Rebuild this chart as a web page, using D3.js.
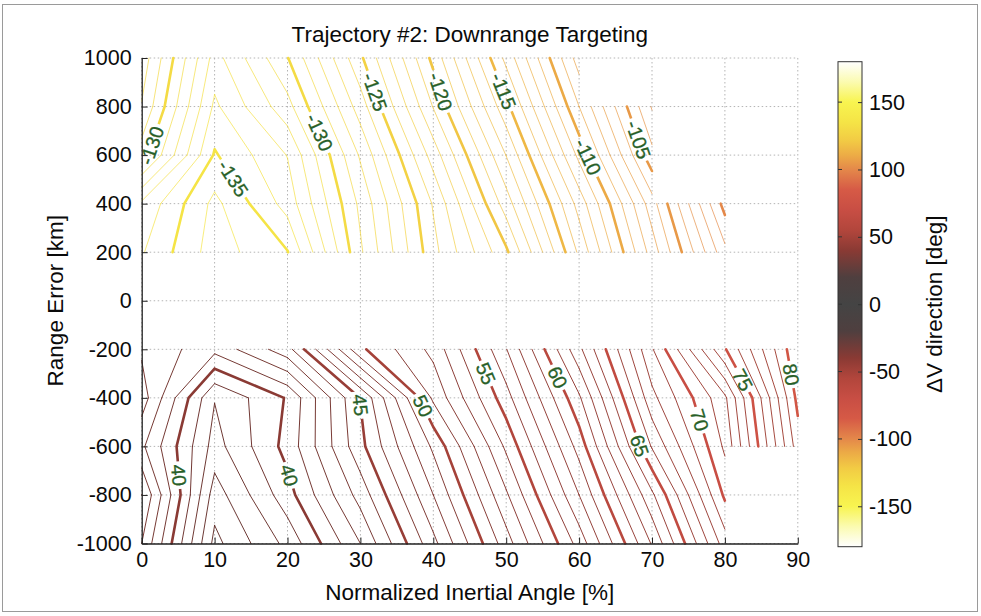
<!DOCTYPE html>
<html>
<head>
<meta charset="utf-8">
<script src="https://cdn.jsdelivr.net/npm/d3@7"></script>
<style>
  body { margin: 0; background: #fff; }
  svg { display: block; font-family: Arial, "Liberation Sans", Helvetica, sans-serif; }
</style>
</head>
<body>
<svg id="chart" width="981" height="616"></svg>
<script>
// ---- grid of the survey: normalized inertial angle [%] x range error [km]
const xGrid = [0, 10, 20, 30, 40, 50, 60, 70, 80, 90];
const yGrid = [-1000, -800, -600, -400, -200, 0, 200, 400, 600, 800, 1000];

// ΔV direction [deg] at each grid node, one array per range error row (NaN = no solution)
const rowM1000 = [43.0, 35.7, 38.3, 42.0, 46.7, 51.55, 56.4, 62.1, 68.5, NaN];
const rowM800  = [44.0, 36.5, 39.6, 43.4, 48.0, 52.85, 58.0, 63.8, 70.2, NaN];
const rowM600  = [42.2, 37.6, 40.35, 44.7, 49.2, 54.2, 59.4, 66.1, 71.2, 79.5];
const rowM400  = [43.5, 38.05, 40.1, 45.05, 51.2, 55.6, 60.84, 67.7, 71.8, 80.3];
const rowM200  = [42.85, 41.3, 43.6, 49.8, 52.3, 56.95, 62.75, 68.9, 74.9, 80.9];
const row0     = [NaN, NaN, NaN, NaN, NaN, NaN, NaN, NaN, NaN, NaN];
const row200   = [-133.9, -136.5, -135.05, -129.16, -124.33, -120.2, -113.8, -107.56, -101.3, NaN];
const row400   = [-133.2, -136.28, -133.6, -128.76, -123.9, -118.5, -112.6, -106.44, -99.6, NaN];
const row600   = [-129.5, -135.11, -132.96, -127.86, -122.55, -116.97, -110.72, -104.3, NaN, NaN];
const row800   = [-128.07, -134.2, -131.36, -126.5, -120.94, -115.3, -109.0, -102.9, NaN, NaN];
const row1000  = [-127.4, -133.4, -130.05, -125.2, -119.7, -113.7, -107.5, NaN, NaN, NaN];
const rows = [rowM1000, rowM800, rowM600, rowM400, rowM200, row0, row200, row400, row600, row800, row1000];

// contour levels every degree, every fifth one drawn heavy and labelled
const levelMin = -140, levelMax = 90, levelStep = 1, majorEvery = 5;

// where the labels sit (data units), one entry per inline label
const labelLevels = [-130, -135, -130, -125, -120, -115, -110, -105, 40, 40, 45, 50, 55, 60, 65, 70, 75, 80];
const labelX      = [2.0, 12.6, 24.1, 31.6, 40.8, 49.3, 61.2, 68.0, 4.6, 20.1, 29.9, 38.3, 47.2, 56.3, 68.4, 76.4, 81.5, 88.3];
const labelY      = [633, 505, 690, 856, 860, 860, 592, 662, -720, -720, -430, -437, -300, -326, -596, -493, -341, -308];

// axis ticks
const xTicks = [0, 10, 20, 30, 40, 50, 60, 70, 80, 90];
const yTicks = [-1000, -800, -600, -400, -200, 0, 200, 400, 600, 800, 1000];
const cbTicks = [-150, -100, -50, 0, 50, 100, 150];

// symmetric colormap over |ΔV direction|
const cmapStops  = [0, 20, 40, 55, 70, 85, 100, 110, 122, 135, 150, 165, 180];
const cmapColors = ["#444444", "#4f3f3f", "#8a3a34", "#b2463c", "#c84e44", "#d65a46", "#e4884a",
                    "#ecaa46", "#f2cc44", "#f5e446", "#f8f450", "#fbfbb0", "#ffffff"];

// ---------------------------------------------------------------------------
const svg = d3.select("#chart");
const W = 981, H = 616;
const X = d3.scaleLinear().domain([0, 90]).range([141.7, 797.8]);
const Y = d3.scaleLinear().domain([-1000, 1000]).range([543.5, 58]);
const cmapAbs = d3.scaleLinear().domain(cmapStops).range(cmapColors).interpolate(d3.interpolateRgb).clamp(true);
const cmap = v => cmapAbs(Math.abs(v));
const plain = d => String(d);

svg.append("rect").attr("width", W).attr("height", H).attr("fill", "#fff");
const defs = svg.append("defs");

// dotted grid
const grid = svg.append("g").attr("stroke", "#b4b4b4").attr("stroke-width", 1).attr("stroke-dasharray", "1.5,2.5");
grid.selectAll("line.gx").data(xTicks).join("line").attr("class", "gx")
  .attr("x1", d => X(d)).attr("x2", d => X(d)).attr("y1", Y(-1000)).attr("y2", Y(1000));
grid.selectAll("line.gy").data(yTicks).join("line").attr("class", "gy")
  .attr("y1", d => Y(d)).attr("y2", d => Y(d)).attr("x1", X(0)).attr("x2", X(90));

// marching squares over every complete cell of the grid
function contourSegments(level) {
  const segs = [];
  const cross = (p, q, P, Q) => {
    if ((p >= level) === (q >= level)) return null;
    const t = (level - p) / (q - p);
    return [P[0] + t * (Q[0] - P[0]), P[1] + t * (Q[1] - P[1])];
  };
  for (let j = 0; j < yGrid.length - 1; j++) {
    for (let i = 0; i < xGrid.length - 1; i++) {
      const a = rows[j][i], b = rows[j][i + 1], c = rows[j + 1][i + 1], d = rows[j + 1][i];
      if (![a, b, c, d].every(Number.isFinite)) continue;
      const A = [xGrid[i], yGrid[j]], B = [xGrid[i + 1], yGrid[j]];
      const C = [xGrid[i + 1], yGrid[j + 1]], D = [xGrid[i], yGrid[j + 1]];
      const e = [cross(a, b, A, B), cross(b, c, B, C), cross(c, d, C, D), cross(d, a, D, A)];
      const hit = e.map((p, k) => p ? k : -1).filter(k => k >= 0);
      if (hit.length === 2) {
        segs.push([e[hit[0]], e[hit[1]]]);
      } else if (hit.length === 4) {
        const centre = (a + b + c + d) / 4;
        if ((centre >= level) === (a >= level)) {
          segs.push([e[0], e[1]], [e[2], e[3]]);
        } else {
          segs.push([e[3], e[0]], [e[1], e[2]]);
        }
      }
    }
  }
  return segs;
}

const levels = d3.range(levelMin, levelMax + levelStep / 2, levelStep);
const contourData = levels.map(level => ({
  level,
  major: Math.abs(level % majorEvery) < 1e-9,
  segs: contourSegments(level).map(s => s.map(p => [X(p[0]), Y(p[1])]))
})).filter(d => d.segs.length);

// inline labels: snap each label onto its contour and turn it along the line
const labelFont = 19.5;
const labels = labelLevels.map((level, k) => {
  const cd = contourData.find(c => c.level === level);
  const px = X(labelX[k]), py = Y(labelY[k]);
  let best = null;
  cd.segs.forEach(([p, q]) => {
    const dx = q[0] - p[0], dy = q[1] - p[1];
    const L2 = dx * dx + dy * dy || 1;
    let t = ((px - p[0]) * dx + (py - p[1]) * dy) / L2;
    t = Math.max(0, Math.min(1, t));
    const cx = p[0] + t * dx, cy = p[1] + t * dy;
    const dist = Math.hypot(px - cx, py - cy);
    if (!best || dist < best.dist) best = { dist, cx, cy, dx, dy };
  });
  let ang = Math.atan2(best.dy, best.dx) * 180 / Math.PI;
  if (ang > 90) ang -= 180;
  if (ang <= -90) ang += 180;
  return { level, x: best.cx, y: best.cy, ang, text: String(level) };
});

// contour lines, gapped where a label sits
const lineG = svg.append("g").attr("fill", "none").attr("stroke-linecap", "round").attr("stroke-linejoin", "round");
const labelG = svg.append("g");

const labelNodes = labelG.selectAll("text").data(labels).join("text")
  .attr("transform", d => `translate(${d.x},${d.y}) rotate(${d.ang})`)
  .attr("text-anchor", "middle").attr("dy", "0.36em")
  .attr("font-size", labelFont).attr("fill", "#285f28")
  .attr("stroke", "#285f28").attr("stroke-width", 0.3)
  .text(d => d.text);
labelNodes.each(function (d) { d.w = this.getComputedTextLength(); });

contourData.forEach(cd => {
  const mine = labels.filter(l => l.level === cd.level);
  let maskRef = null;
  if (mine.length) {
    const id = "gap" + String(cd.level).replace("-", "m");
    const m = defs.append("mask").attr("id", id).attr("maskUnits", "userSpaceOnUse")
      .attr("x", 0).attr("y", 0).attr("width", W).attr("height", H);
    m.append("rect").attr("width", W).attr("height", H).attr("fill", "#fff");
    mine.forEach(l => {
      m.append("rect")
        .attr("x", -l.w / 2 - 3).attr("y", -labelFont * 0.42)
        .attr("width", l.w + 6).attr("height", labelFont * 0.84)
        .attr("transform", `translate(${l.x},${l.y}) rotate(${l.ang})`)
        .attr("fill", "#000");
    });
    maskRef = `url(#${id})`;
  }
  const p = d3.path();
  cd.segs.forEach(([a, b]) => { p.moveTo(a[0], a[1]); p.lineTo(b[0], b[1]); });
  const col = d3.color(cmap(cd.level));
  lineG.append("path")
    .attr("d", p.toString())
    .attr("stroke", cd.level > 0 && !cd.major ? col.darker(0.7) : col)
    .attr("stroke-opacity", cd.major ? 1 : (cd.level < 0 ? 0.7 : 0.95))
    .attr("stroke-width", cd.major ? 2.6 : 1)
    .attr("mask", maskRef);
});
labelG.raise();

// axes (box off, ticks inward)
const axisFont = 21.5;
const xAxis = svg.append("g").attr("transform", `translate(0,${Y(-1000)})`)
  .call(d3.axisBottom(X).tickValues(xTicks).tickSizeInner(-6).tickSizeOuter(0).tickPadding(8).tickFormat(plain));
const yAxis = svg.append("g").attr("transform", `translate(${X(0)},0)`)
  .call(d3.axisLeft(Y).tickValues(yTicks).tickSizeInner(-6).tickSizeOuter(0).tickPadding(10).tickFormat(plain));
[xAxis, yAxis].forEach(g => {
  g.attr("font-family", null);
  g.selectAll("text").attr("font-size", axisFont).attr("fill", "#0a0a0a");
  g.selectAll("line").attr("stroke", "#222");
  g.select(".domain").attr("stroke", "#222").attr("stroke-width", 1.3);
});

// title and axis titles
const titleFont = 22.5;
svg.append("text").attr("x", (X(0) + X(90)) / 2).attr("y", 42).attr("text-anchor", "middle")
  .attr("font-size", titleFont).attr("fill", "#0a0a0a").text("Trajectory #2: Downrange Targeting");
svg.append("text").attr("x", (X(0) + X(90)) / 2).attr("y", 600).attr("text-anchor", "middle")
  .attr("font-size", titleFont).attr("fill", "#0a0a0a").text("Normalized Inertial Angle [%]");
svg.append("text").attr("transform", `translate(63,${(Y(-1000) + Y(1000)) / 2}) rotate(-90)`)
  .attr("text-anchor", "middle").attr("font-size", titleFont).attr("fill", "#0a0a0a").text("Range Error [km]");

// colorbar
const CB = d3.scaleLinear().domain([-180, 180]).range([546.7, 61.7]);
const cbX0 = 838, cbX1 = 862;
const grad = defs.append("linearGradient").attr("id", "cbGrad")
  .attr("gradientUnits", "userSpaceOnUse").attr("x1", 0).attr("x2", 0).attr("y1", CB(-180)).attr("y2", CB(180));
const gradVals = [...cmapStops.slice(1).reverse().map(v => -v), ...cmapStops];
gradVals.forEach(v => grad.append("stop").attr("offset", (v + 180) / 360).attr("stop-color", cmap(v)));
svg.append("rect").attr("x", cbX0).attr("y", CB(180)).attr("width", cbX1 - cbX0).attr("height", CB(-180) - CB(180))
  .attr("fill", "url(#cbGrad)").attr("stroke", "#333").attr("stroke-width", 1);
const cbAxis = svg.append("g").attr("transform", `translate(${cbX1},0)`)
  .call(d3.axisRight(CB).tickValues(cbTicks).tickSizeInner(-4).tickSizeOuter(0).tickPadding(7).tickFormat(plain));
cbAxis.select(".domain").remove();
cbAxis.attr("font-family", null);
cbAxis.selectAll("text").attr("font-size", axisFont).attr("fill", "#0a0a0a");
cbAxis.selectAll("line").attr("stroke", "#333");
svg.append("g").selectAll("line").data(cbTicks).join("line")
  .attr("x1", cbX0).attr("x2", cbX0 + 4).attr("y1", d => CB(d)).attr("y2", d => CB(d)).attr("stroke", "#333");
svg.append("text").attr("transform", `translate(942,${(CB(-180) + CB(180)) / 2}) rotate(-90)`)
  .attr("text-anchor", "middle").attr("font-size", titleFont).attr("fill", "#0a0a0a").text("ΔV direction [deg]");

// figure frame
svg.append("rect").attr("x", 2.5).attr("y", 4.5).attr("width", 975).attr("height", 607)
  .attr("fill", "none").attr("stroke", "#9a9a9a").attr("stroke-width", 1);
</script>
</body>
</html>
